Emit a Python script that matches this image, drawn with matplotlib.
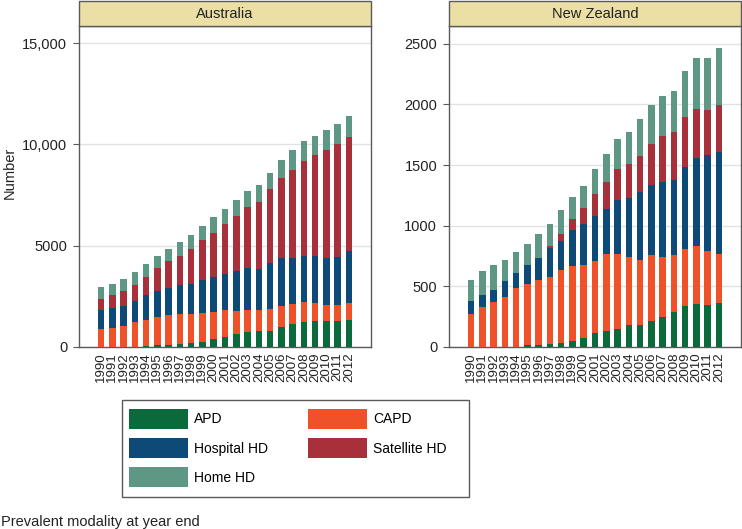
import numpy as np
import matplotlib
matplotlib.use("Agg")
from matplotlib import pyplot as plt
from matplotlib.patches import Rectangle, Patch

plt.rcParams['font.family'] = ['Liberation Sans', 'DejaVu Sans']

years = [str(y) for y in range(1990, 2013)]
modalities = ['APD', 'CAPD', 'Hospital HD', 'Satellite HD', 'Home HD']
colors = ['#0a6a3c', '#ef5128', '#0d4a77', '#a8303b', '#5f9785']

# Australia, counts per modality
au_apd = [0, 0, 0, 0, 33, 82, 115, 164, 197, 263, 378, 493, 624, 722, 772, 805, 969, 1133, 1248, 1281, 1264, 1264, 1346]
au_capd = [903, 952, 1051, 1232, 1313, 1412, 1445, 1445, 1429, 1412, 1330, 1313, 1149, 1117, 1034, 1067, 1034, 985, 969, 886, 821, 789, 821]
au_hosp = [920, 986, 985, 1050, 1199, 1248, 1363, 1462, 1494, 1625, 1724, 1790, 1987, 2069, 2053, 2266, 2398, 2299, 2299, 2349, 2332, 2397, 2595]
au_sat = [525, 607, 723, 772, 887, 1150, 1313, 1445, 1740, 2004, 2200, 2463, 2710, 3021, 3317, 3662, 3929, 4345, 4690, 4956, 5317, 5580, 5628]
au_home = [591, 575, 607, 641, 657, 607, 624, 656, 657, 689, 772, 772, 771, 756, 821, 804, 910, 957, 957, 967, 971, 986, 1036]

# New Zealand
nz_apd = [0, 0, 0, 0, 0, 14, 18, 22, 30, 47, 77, 114, 132, 146, 179, 181, 217, 244, 286, 338, 354, 343, 363]
nz_capd = [275, 332, 374, 415, 489, 508, 534, 552, 607, 623, 598, 598, 634, 620, 565, 539, 544, 500, 475, 467, 481, 448, 406]
nz_hosp = [101, 97, 98, 126, 118, 154, 184, 241, 234, 297, 340, 368, 374, 445, 481, 557, 571, 619, 619, 677, 725, 795, 837]
nz_sat = [0, 0, 0, 0, 0, 0, 0, 20, 63, 88, 130, 181, 223, 257, 282, 302, 341, 379, 393, 416, 402, 365, 391]
nz_home = [179, 201, 204, 179, 176, 173, 192, 181, 195, 178, 186, 206, 232, 244, 265, 297, 324, 327, 334, 382, 420, 436, 467]

au_ticks = [0, 5000, 10000, 15000]
au_ticklabels = ['0', '5000', '10,000', '15,000']
nz_ticks = [0, 500, 1000, 1500, 2000, 2500]
nz_ticklabels = ['0', '500', '1000', '1500', '2000', '2500']

W, H = 742, 529
fig = plt.figure(figsize=(W / 100, H / 100), dpi=100)

frame_col = '#5a5a5a'


def draw_panel(left_px, title, series, ymax, ticks, ticklabels):
    ax = fig.add_axes([left_px / W, 1 - 347 / H, 292 / W, 321 / H])
    x = np.arange(len(years))
    bottom = np.zeros(len(years))
    for vals, col in zip(series, colors):
        ax.bar(x, vals, width=0.58, bottom=bottom, color=col, linewidth=0, zorder=3)
        bottom += np.array(vals)
    ax.set_xlim(-1.95, len(years) - 1 + 1.95)
    ax.set_ylim(0, ymax)
    ax.set_yticks(ticks)
    ax.set_yticklabels(ticklabels, fontsize=10.5, color='#222222')
    ax.set_xticks(x)
    ax.set_xticklabels(years, rotation=90, fontsize=9.5, color='#222222')
    ax.tick_params(axis='y', length=4.5, width=0.8, color=frame_col, pad=4)
    ax.tick_params(axis='x', length=0, pad=4)
    ax.grid(axis='y', color='#e2e2e2', linewidth=1, zorder=0)
    for s in ax.spines.values():
        s.set_color(frame_col)
        s.set_linewidth(1)
    # header strip
    hh = 25 / 321
    ax.add_patch(Rectangle((0, 1), 1, hh, transform=ax.transAxes, facecolor='#ecdfa6',
                           edgecolor=frame_col, linewidth=1, clip_on=False, zorder=5))
    ax.text(0.5, 1 + hh / 2, title, transform=ax.transAxes, ha='center', va='center',
            fontsize=10.5, color='#222222', zorder=6)
    return ax


draw_panel(79, 'Australia', [au_apd, au_capd, au_hosp, au_sat, au_home], 15850, au_ticks, au_ticklabels)
draw_panel(449, 'New Zealand', [nz_apd, nz_capd, nz_hosp, nz_sat, nz_home], 2647, nz_ticks, nz_ticklabels)

fig.text(10 / W, 1 - 173 / H, 'Number', rotation=90, ha='center', va='center', fontsize=10.5, color='#222222')

# legend: row-major order like the reference (matplotlib fills column by column)
order = [0, 2, 4, 1, 3]
handles = [Patch(facecolor=colors[i], edgecolor='none') for i in order]
labels = [modalities[i] for i in order]
fig.patches.append(Rectangle((122 / W, 1 - 497 / H), 347 / W, 97 / H, transform=fig.transFigure,
                             facecolor='white', edgecolor=frame_col, linewidth=1))
fig.legend(handles, labels, ncol=2, loc='upper left', bbox_to_anchor=(129 / W, 1 - 409 / H),
           prop={'size': 10}, handlelength=4.25, handleheight=1.84, handletextpad=0.43,
           labelspacing=0.65, columnspacing=2.9, borderpad=0, borderaxespad=0, frameon=False)

fig.text(1 / W, 1 - 522 / H, 'Prevalent modality at year end', ha='left', va='center', fontsize=10.5, color='#222222')

fig.savefig('out.png', dpi=100)
